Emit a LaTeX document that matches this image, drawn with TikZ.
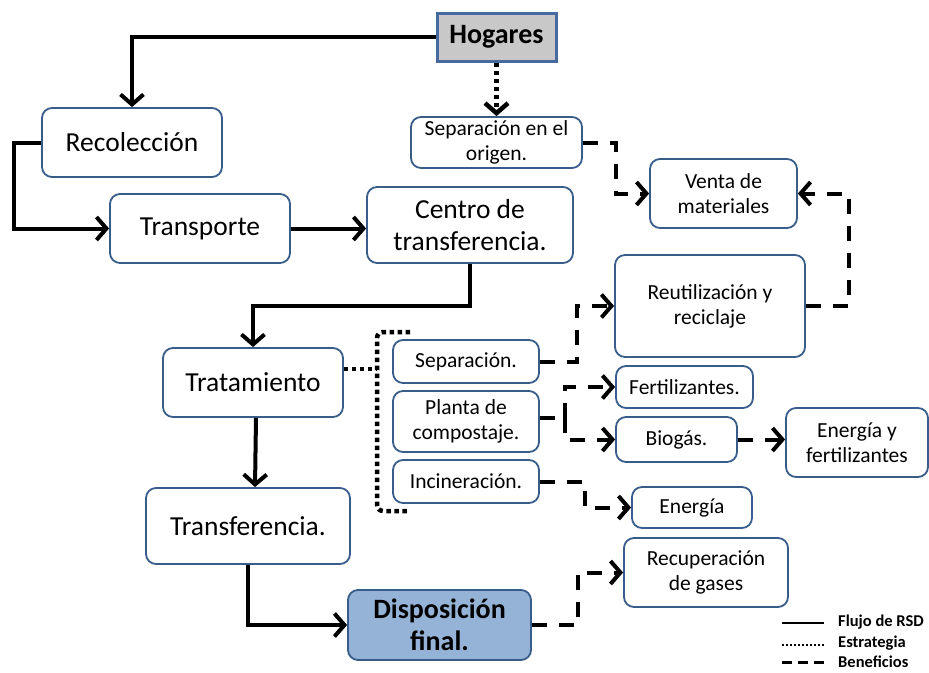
\documentclass[tikz,border=0pt]{standalone}
\usepackage{fontspec}
\setmainfont{Carlito}
\usetikzlibrary{arrows.meta,calc}
\definecolor{bordc}{RGB}{56,93,138}
\definecolor{hogfill}{RGB}{200,200,200}
\definecolor{hogbord}{RGB}{70,105,160}
\definecolor{disfill}{RGB}{149,179,215}
\tikzset{
  box/.style={draw=bordc, line width=1.8pt, rounded corners=10pt, fill=white, align=center, inner sep=0pt, text=black},
  big/.style={font=\fontsize{27.5}{32}\selectfont},
  small/.style={font=\fontsize{21.5}{25}\selectfont},
  hogbox/.style={draw=hogbord, line width=3pt, fill=hogfill, align=center, inner sep=0pt, font=\bfseries\fontsize{28}{32}\selectfont},
  disbox/.style={box, fill=disfill, font=\bfseries\fontsize{28}{32}\selectfont},
  tip/.style={-{Straight Barb[length=10pt,width=23pt]}},
  flow/.style={line width=4pt, tip},
  strat/.style={line width=4.5pt, dash pattern=on 4.5pt off 3.5pt},
  bene/.style={line width=4pt, dash pattern=on 15pt off 12pt},
  legline/.style={line width=2.2pt},
  legtext/.style={anchor=west, inner sep=0pt, font=\bfseries\fontsize{16.5}{18}\selectfont}
}
\begin{document}
\begin{tikzpicture}[x=1pt,y=-1pt]
\useasboundingbox (0,0) rectangle (929,672);
% nodes
\node[hogbox, minimum width=119pt, minimum height=48pt] (hog) at (496.5,37) {Hogares};
\node[box,big, minimum width=180pt, minimum height=69pt] (rec) at (132,142.5) {Recolección};
\node[box,big, minimum width=180pt, minimum height=69pt] (tra) at (200,228.5) {Transporte};
\node[box,small, minimum width=171pt, minimum height=51pt] (sep0) at (496.5,142.5) {Separación en el\\origen.};
\node[box,big, minimum width=206pt, minimum height=76pt] (cen) at (470,225) {Centro de\\transferencia.};
\node[box,small, minimum width=147pt, minimum height=69pt] (ven) at (723.5,193.5) {Venta de\\materiales};
\node[box,small, minimum width=190pt, minimum height=102pt] (reu) at (710,306) {Reutilización y\\reciclaje};
\node[box,big, minimum width=180pt, minimum height=69pt] (trat) at (253,382.5) {Tratamiento};
\node[box,small, minimum width=146pt, minimum height=43pt] (sepa) at (466,361.5) {Separación.};
\node[box,small, minimum width=146pt, minimum height=61pt] (pla) at (466,421.5) {Planta de\\compostaje.};
\node[box,small, minimum width=146pt, minimum height=43pt] (inc) at (466,481.5) {Incineración.};
\node[box,small, minimum width=137pt, minimum height=42pt] (fer) at (684.5,387) {Fertilizantes.};
\node[box,small, minimum width=121pt, minimum height=45pt] (bio) at (676.5,439.5) {Biogás.};
\node[box,small, minimum width=142pt, minimum height=69pt] (eyf) at (857,442.5) {Energía y\\fertilizantes};
\node[box,small, minimum width=120pt, minimum height=41pt] (ene) at (692,507.5) {Energía};
\node[box,big, minimum width=204pt, minimum height=76pt] (trf) at (248,526) {Transferencia.};
\node[disbox, minimum width=183pt, minimum height=70pt] (dis) at (439.5,625) {Disposición\\final.};
\node[box,small, minimum width=164pt, minimum height=69pt] (recg) at (706,572.5) {Recuperación\\de gases};
% solid flow
\draw[flow] (hog.west) -| (rec.north);
\draw[flow] (rec.west) -- ++(-27,0) |- (tra.west);
\draw[flow] (tra.east) -- (tra.east -| cen.west);
\draw[flow] (cen.south) -- ++(0,42) -| (trat.north);
\draw[flow] ($(trat.south)+(3,0)$) -- ($(trf.north)+(7,0)$);
\draw[flow] (trf.south) |- (dis.west);
% strategy
\draw[strat, tip] (hog.south) -- (sep0.north);
\coordinate (bt) at (410,332);
\coordinate (bb) at (410,511);
\coordinate (bm) at (377,369);
\draw[strat, rounded corners=6pt] (bt) -- (377,332) -- (377,511) -- (bb);
\draw[strat] ($(trat.east)+(0,-13.5)$) -- (bm);
% benefits
\draw[bene, tip] (sep0.east) -- ++(33,0) |- (ven.west);
\draw[bene, tip] (reu.east) -- ++(43,0) |- (ven.east);
\draw[bene, tip] (sepa.east) -- ++(37,0) |- (reu.west);
\draw[bene] ($(pla.east)+(0,-4)$) -- ++(25,0) coordinate (pj);
\draw[bene, tip] (pj) |- (fer.west);
\draw[bene, tip] (pj) |- (bio.west);
\draw[bene, tip] (inc.east) -- ++(45,0) |- (ene.west);
\draw[bene, tip] (bio.east) -- (bio.east -| eyf.west);
\draw[bene, tip] (dis.east) -- ++(46,0) |- (recg.west);
% legend
\coordinate (l1a) at (782,623); \coordinate (l1b) at (824,623);
\coordinate (l2a) at (782,645); \coordinate (l2b) at (824,645);
\coordinate (l3a) at (782,662); \coordinate (l3b) at (824,662);
\draw[legline] (l1a) -- (l1b);
\draw[legline, dash pattern=on 2pt off 2pt] (l2a) -- (l2b);
\draw[legline, line width=3pt, dash pattern=on 10pt off 6pt] (l3a) -- (l3b);
\node[legtext] (lt1) at (838,622) {Flujo de RSD};
\node[legtext] (lt2) at (838,643) {Estrategia};
\node[legtext] (lt3) at (838,662) {Beneficios};
\end{tikzpicture}
\end{document}
